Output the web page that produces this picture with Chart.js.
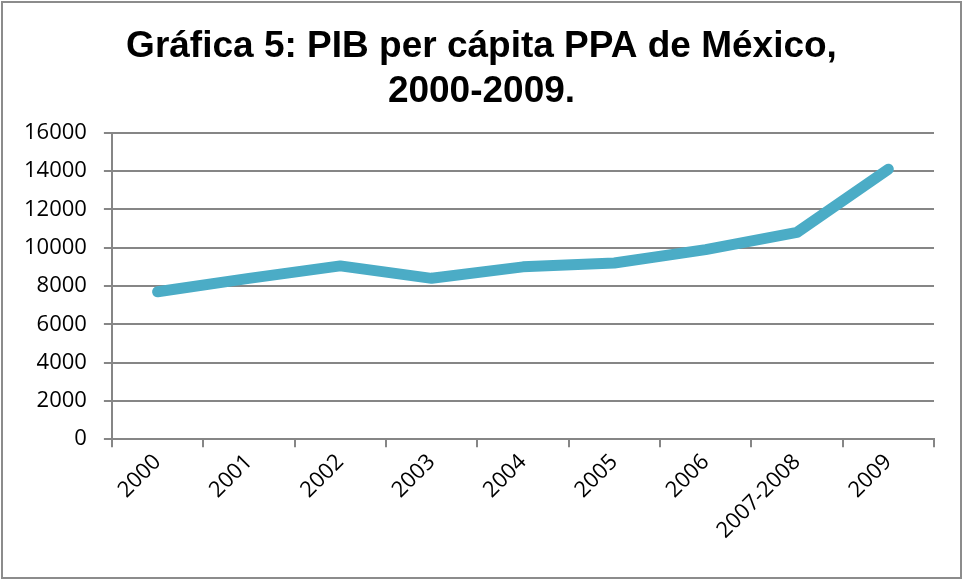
<!DOCTYPE html>
<html>
<head>
<meta charset="utf-8">
<script src="https://cdn.jsdelivr.net/npm/chart.js@4.4.1/dist/chart.umd.min.js"></script>
<style>
  html, body { margin: 0; padding: 0; background: #fff; }
  #wrap {
    position: absolute; left: 1px; top: 1px;
    width: 957px; height: 574px;
    border: 2px solid #8c8c8c;
  }
</style>
</head>
<body>
<div id="wrap"><canvas id="pib"></canvas></div>
<script>
// Datos
const categorias = ['2000', '2001', '2002', '2003', '2004', '2005', '2006', '2007-2008', '2009'];
const pibPerCapita = [7700, 8400, 9050, 8400, 9000, 9200, 9900, 10800, 14100];
const ticksY = [0, 2000, 4000, 6000, 8000, 10000, 12000, 14000, 16000];

document.addEventListener("DOMContentLoaded", function() {
    const ctx = document.getElementById('pib').getContext('2d');

    new Chart(ctx, {
        type: 'line',
        data: {
            labels: categorias,
            datasets: [{
                label: 'PIB per cápita PPA',
                data: pibPerCapita,
                borderColor: '#4bacc6',
                borderWidth: 11,
                borderCapStyle: 'round',
                borderJoinStyle: 'round',
                pointRadius: 0,
                tension: 0,
                fill: false
            }]
        },
        options: {
            responsive: true,
            maintainAspectRatio: false,
            animation: false,
            layout: { padding: { left: 4, right: 4, top: 8, bottom: 31 } },
            plugins: {
                legend: { display: false },
                tooltip: { enabled: false },
                title: {
                    display: true,
                    text: ['Gráfica 5: PIB per cápita PPA de México,', '2000-2009.'],
                    color: '#000',
                    font: { family: 'Liberation Sans', size: 37, weight: 'bold' },
                    lineHeight: 1.25,
                    padding: { top: 14, bottom: 19 }
                }
            },
            scales: {
                x: {
                    offset: true,
                    grid: {
                        offset: true,
                        drawOnChartArea: false,
                        drawTicks: true,
                        tickLength: 8,
                        color: '#868686',
                        lineWidth: 2
                    },
                    border: { color: '#868686', width: 2 },
                    ticks: {
                        color: '#000',
                        font: { family: 'Open Sans', size: 22 },
                        maxRotation: 45,
                        minRotation: 45,
                        padding: 2,
                        autoSkip: false
                    }
                },
                y: {
                    min: ticksY[0],
                    max: ticksY[ticksY.length - 1],
                    afterBuildTicks: (axis) => {
                        axis.ticks = ticksY.map(v => ({ value: v }));
                    },
                    grid: {
                        color: '#868686',
                        lineWidth: 2,
                        drawTicks: true,
                        tickLength: 8
                    },
                    border: { color: '#868686', width: 2 },
                    ticks: {
                        color: '#000',
                        font: { family: 'Open Sans', size: 22 },
                        padding: 17,
                        callback: (v) => String(v)
                    }
                },
                // empty right margin so the plot sits like the original
                margen: {
                    position: 'right',
                    grid: { drawOnChartArea: false, drawTicks: false },
                    border: { display: false },
                    ticks: { display: false },
                    afterFit: (scale) => { scale.width = 22; }
                }
            }
        }
    });
});
</script>
</body>
</html>
